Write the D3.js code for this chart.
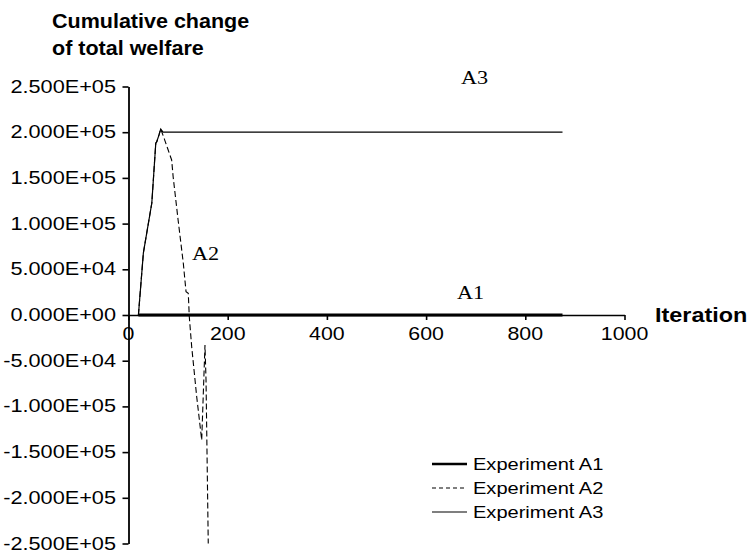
<!DOCTYPE html>
<html><head><meta charset="utf-8">
<script src="https://cdn.jsdelivr.net/npm/d3@7"></script>
<style>body{margin:0;background:#fff}svg{display:block}</style>
</head><body>
<script>
// ---- data ----
const xTicks = [0, 200, 400, 600, 800, 1000];
const yTicks = [250000, 200000, 150000, 100000, 50000, 0, -50000, -100000, -150000, -200000, -250000];
const seriesNames = ["Experiment A1", "Experiment A2", "Experiment A3"];
const a1Iter = [20, 875];
const a1Val = [0, 0];
const a2Iter = [20, 30, 47, 55, 57, 61.5, 65, 72, 80, 87, 90, 100, 110.5, 116, 120.5, 122, 122.3, 127.4, 137.5, 147.6, 154.2, 156.3, 160.8];
const a2Val = [0, 68000, 122500, 188000, 189600, 197000, 203500, 193000, 180500, 169600, 151300, 104000, 56600, 25500, 23700, 5500, 0, -34700, -89400, -136800, -32800, -71000, -250000];
const a3Iter = [20, 30, 47, 55, 57, 61.5, 65, 69.6, 875];
const a3Val = [0, 68000, 122500, 188000, 189600, 197000, 203500, 200000, 200000];

const W = 753, H = 552;
const svg = d3.select("body").append("svg").attr("width", W).attr("height", H);
const x = d3.scaleLinear().domain([0, 1000]).range([128.5, 624.5]);
const y = d3.scaleLinear().domain([-250000, 250000]).range([543.5, 86.5]);

function fmt(d) {
  const [m, e] = d.toExponential(3).split("e");
  const sign = e[0] === "-" ? "-" : "+";
  const ex = e.replace(/[+-]/, "").padStart(2, "0");
  return m + "E" + sign + ex;
}
function stext(g, tx, ty, str, opts, sx) {
  const t = g.append("text").attr("transform", `translate(${tx},${ty}) scale(${sx || 1.2},1)`).text(str);
  Object.entries(opts || {}).forEach(([k, v]) => t.attr(k, v));
  return t;
}
const sans = "Liberation Sans, Arial, sans-serif";

// y axis
const yAxis = svg.append("g").attr("transform", `translate(${x(0)},0)`)
  .call(d3.axisLeft(y).tickValues(yTicks).tickSize(6).tickSizeOuter(0).tickFormat(""));
yAxis.select(".domain").attr("stroke", "#000").attr("stroke-width", 1.8);
yAxis.selectAll(".tick line").attr("stroke-width", 1.6);
yTicks.forEach(v => stext(svg, 116, y(v) + 6, fmt(v), {"text-anchor": "end", "font-family": sans, "font-size": 17.5, "fill": "#000"}, 1.24));

// x axis
const xAxis = svg.append("g").attr("transform", `translate(0,${y(0)})`)
  .call(d3.axisBottom(x).tickValues(xTicks).tickSize(5).tickSizeOuter(0).tickFormat(""));
xAxis.select(".domain").attr("stroke", "#000").attr("stroke-width", 1.6);
xAxis.selectAll(".tick line").attr("stroke-width", 1.6);
xTicks.forEach(v => stext(svg, x(v), y(0) + 25, String(v), {"text-anchor": "middle", "font-family": sans, "font-size": 17.5, "fill": "#000"}, 1.22));

// lines
const line = d3.line().x(d => x(d[0])).y(d => y(d[1]));
const zip = (a, b) => a.map((v, i) => [v, b[i]]);
svg.append("path").datum(zip(a3Iter, a3Val)).attr("d", line).attr("fill", "none").attr("stroke", "#000").attr("stroke-width", 1.2);
svg.append("path").datum(zip(a2Iter, a2Val)).attr("d", line).attr("fill", "none").attr("stroke", "#000").attr("stroke-width", 1.1).attr("stroke-dasharray", "6,3");
svg.append("path").datum(zip(a1Iter, a1Val)).attr("d", line).attr("fill", "none").attr("stroke", "#000").attr("stroke-width", 3.2);

// series labels
const serif = {"font-family": "Liberation Serif, Times New Roman, serif", "font-size": 18.5, "fill": "#000"};
stext(svg, 461, 84, "A3", serif);
stext(svg, 192, 260, "A2", serif);
stext(svg, 457, 299, "A1", serif);

// titles
const bold = {"font-family": sans, "font-size": 19.5, "font-weight": "bold", "fill": "#000"};
const tbold = Object.assign({}, bold, {"font-size": 20.5});
stext(svg, 52, 28, "Cumulative change", tbold, 1.05);
stext(svg, 52, 55, "of total welfare", tbold, 1.05);
stext(svg, 655, 322, "Iteration", bold, 1.2);

// legend
const lg = svg.append("g");
const styles = [{w: 2.6, dash: null}, {w: 1.1, dash: "4,3"}, {w: 1.2, dash: null}];
seriesNames.forEach((n, i) => {
  const ly = 464 + i * 24;
  lg.append("line").attr("x1", 432).attr("x2", 467).attr("y1", ly).attr("y2", ly)
    .attr("stroke", "#000").attr("stroke-width", styles[i].w).attr("stroke-dasharray", styles[i].dash);
  stext(lg, 473, ly + 6, n, {"font-family": sans, "font-size": 17, "fill": "#000"}, 1.18);
});
</script>
</body></html>
